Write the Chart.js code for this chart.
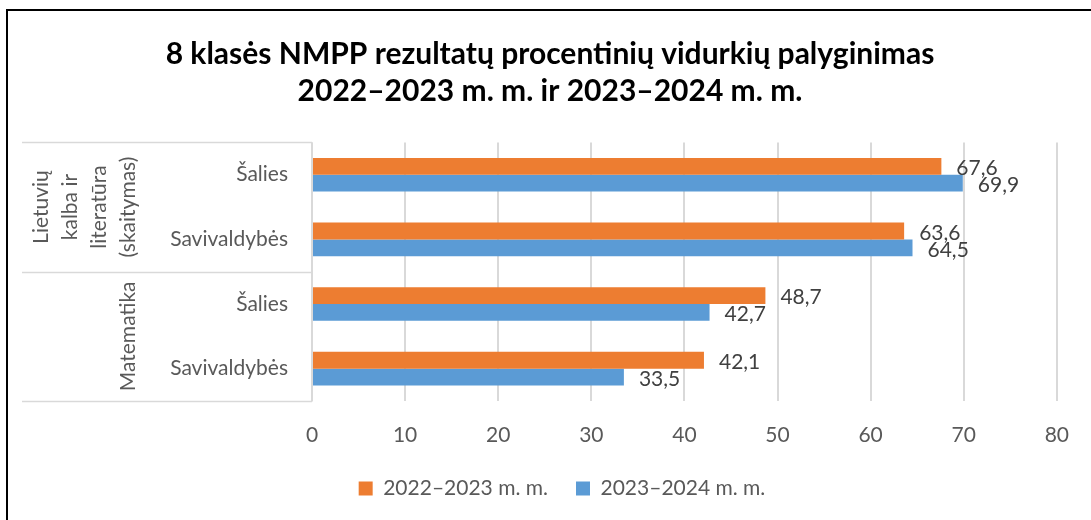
<!DOCTYPE html>
<html>
<head>
<meta charset="utf-8">
<script src="https://cdn.jsdelivr.net/npm/chart.js@4.4.1/dist/chart.umd.min.js"></script>
<style>
  html, body { margin: 0; padding: 0; background: #fff; overflow: hidden; }
  #wrap { position: relative; width: 1091px; height: 520px; }
  #frame { position: absolute; left: 6px; top: 9px; width: 1200px; height: 700px; border: 2px solid #000; box-sizing: border-box; }
  canvas { position: absolute; left: 0; top: 0; }
</style>
</head>
<body>
<div id="wrap">
  <div id="frame"></div>
  <canvas id="chart" width="1091" height="520"></canvas>
</div>
<script>
/* global Chart */
var categories = ["Šalies", "Savivaldybės", "Šalies", "Savivaldybės"];
var groupLabels = [["Lietuvių", "kalba ir", "literatūra", "(skaitymas)"], ["Matematika"]];
var groupSizes = [2, 2];
var seriesNames = ["2022–2023 m. m.", "2023–2024 m. m."];
var values2223 = [67.6, 63.6, 48.7, 42.1];
var values2324 = [69.9, 64.5, 42.7, 33.5];
var xTicks = [0, 10, 20, 30, 40, 50, 60, 70, 80];
var titleLines = ["8 klasės NMPP rezultatų procentinių vidurkių palyginimas", "2022–2023 m. m. ir 2023–2024 m. m."];

var FONT = "Lato, 'Open Sans', sans-serif";
var GRID = "#d9d9d9";

function fmt(v) {
  return v.toFixed(1).replace(".", ",");
}

// value labels next to bar ends
var valueLabels = {
  id: "valueLabels",
  afterDatasetsDraw: function(chart) {
    var ctx = chart.ctx;
    ctx.save();
    ctx.font = "21px " + FONT;
    ctx.fillStyle = "#404040";
    ctx.textAlign = "left";
    ctx.textBaseline = "middle";
    chart.data.datasets.forEach(function(ds, i) {
      chart.getDatasetMeta(i).data.forEach(function(bar, j) {
        ctx.fillText(fmt(ds.data[j]), bar.x + 15, bar.y + 2);
      });
    });
    ctx.restore();
  }
};

// two-level category axis: group lines and rotated group names
var groupAxis = {
  id: "groupAxis",
  afterLayout: function(chart) {
    // title and legend sit a little right of the canvas centre
    chart.legend.left += 32;
    chart.legend.right += 32;
    chart.titleBlock.left += 20;
    chart.titleBlock.right += 20;
  },
  afterDraw: function(chart) {
    var ctx = chart.ctx;
    var area = chart.chartArea;
    var step = (area.bottom - area.top) / categories.length;
    var left = 22;
    ctx.save();
    ctx.strokeStyle = GRID;
    ctx.lineWidth = 1.5;

    var start = 0;
    var edges = [area.top];
    groupSizes.forEach(function(n) {
      start += n;
      edges.push(area.top + start * step);
    });
    edges.forEach(function(y) {
      ctx.beginPath();
      ctx.moveTo(left, Math.round(y) + 0.5);
      ctx.lineTo(area.left, Math.round(y) + 0.5);
      ctx.stroke();
    });

    ctx.font = "21px " + FONT;
    ctx.fillStyle = "#595959";
    ctx.textAlign = "center";
    ctx.textBaseline = "middle";
    groupLabels.forEach(function(lines, g) {
      var cy = (edges[g] + edges[g + 1]) / 2;
      var lastX = 128;
      lines.forEach(function(line, k) {
        var x = lastX - (lines.length - 1 - k) * 29;
        ctx.save();
        ctx.translate(x, cy);
        ctx.rotate(-Math.PI / 2);
        ctx.fillText(line, 0, 0);
        ctx.restore();
      });
    });
    ctx.restore();
  }
};

new Chart(document.getElementById("chart").getContext("2d"), {
  type: "bar",
  data: {
    labels: categories,
    datasets: [
      { label: seriesNames[0], data: values2223, backgroundColor: "#ED7D31", categoryPercentage: 0.52, barPercentage: 1.0 },
      { label: seriesNames[1], data: values2324, backgroundColor: "#5B9BD5", categoryPercentage: 0.52, barPercentage: 1.0 }
    ]
  },
  options: {
    indexAxis: "y",
    responsive: false,
    animation: false,
    layout: { padding: { left: 0, right: 31, top: 0, bottom: 11 } },
    scales: {
      x: {
        min: 0,
        max: 80,
        afterBuildTicks: function(scale) {
          scale.ticks = xTicks.map(function(v) { return { value: v }; });
        },
        afterFit: function(scale) { scale.height = 49; },
        grid: { color: GRID, lineWidth: 2, drawTicks: false },
        border: { display: false },
        ticks: { color: "#595959", font: { family: FONT, size: 21 }, padding: 22, maxRotation: 0 }
      },
      y: {
        grid: { display: false },
        border: { display: true, color: GRID, width: 1.5 },
        ticks: { color: "#595959", font: { family: FONT, size: 21 }, padding: 16 },
        afterFit: function(scale) { scale.width = 312; }
      }
    },
    plugins: {
      title: {
        display: true,
        text: titleLines,
        color: "#000",
        font: { family: FONT, size: 30, weight: "bold", lineHeight: 1.24 },
        padding: { top: 36, bottom: 32 }
      },
      legend: {
        position: "bottom",
        labels: {
          color: "#595959",
          font: { family: FONT, size: 21 },
          boxWidth: 14,
          boxHeight: 14,
          padding: 28
        }
      },
      tooltip: { enabled: false }
    }
  },
  plugins: [valueLabels, groupAxis]
});
</script>
</body>
</html>
